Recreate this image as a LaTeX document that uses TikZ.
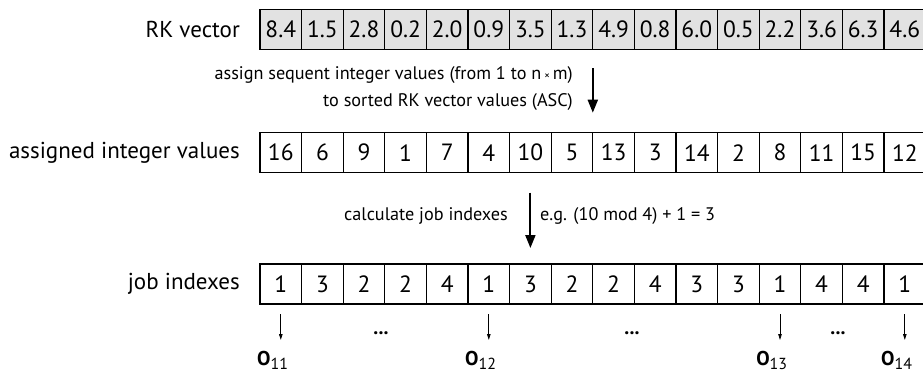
\documentclass[tikz,border=0pt]{standalone}
\usepackage{fontspec}
\setmainfont{PT Sans}
\usepackage{tikz}
\usetikzlibrary{arrows.meta, positioning, calc}
\definecolor{cellgray}{HTML}{E2E2E2}

\tikzset{
  cellbox/.style={draw=black, line width=1.3pt, minimum height=40pt, minimum width=41.6pt, inner sep=0pt, outer sep=0pt, font=\fontsize{23.5}{23.5}\selectfont},
  rklabel/.style={anchor=east, inner sep=0pt, font=\fontsize{23}{23}\selectfont},
  bigarrow/.style={line width=2pt, -{Triangle[length=13pt, width=10pt]}},
  smallarrow/.style={line width=0.8pt, -{Triangle[length=6pt, width=3.5pt]}},
  steptext/.style={inner sep=0pt, font=\fontsize{18.2}{27}\selectfont},
  opnode/.style={inner sep=0pt, font=\fontsize{20}{20}\selectfont}
}

\begin{document}
\begin{tikzpicture}[x=1pt, y=-1pt]
  \useasboundingbox (0,0) rectangle (923,376);
  \clip (0,0) rectangle (923,376);

  % RK vector row
  \node[cellbox, fill=cellgray] (a1) at (280.8,29.3) {8.4};
  \foreach \v [count=\i from 2, count=\p] in {1.5,2.8,0.2,2.0,0.9,3.5,1.3,4.9,0.8,6.0,0.5,2.2,3.6,6.3,4.6}
    \node[cellbox, fill=cellgray, right=0pt of a\p] (a\i) {\v};
  \node[rklabel] (rklab) at (240,29.3) {RK vector};

  % assigned integer values row
  \node[cellbox] (b1) at (280.8,152.7) {16};
  \foreach \v [count=\i from 2, count=\p] in {6,9,1,7,4,10,5,13,3,14,2,8,11,15,12}
    \node[cellbox, right=0pt of b\p] (b\i) {\v};
  \node[rklabel] (intlab) at (240,152.7) {assigned integer values};

  % job indexes row
  \node[cellbox] (c1) at (280.8,284) {1};
  \foreach \v [count=\i from 2, count=\p] in {3,2,2,4,1,3,2,2,4,3,3,1,4,4,1}
    \node[cellbox, right=0pt of c\p] (c\i) {\v};
  \node[rklabel] (joblab) at (240,284) {job indexes};

  % step arrows
  \draw[bigarrow] ([yshift=-19pt]a8.south east) -- ([yshift=20pt]b8.north east);
  \node[steptext, anchor=east, align=right] (asgtext) at (573,89) {assign sequent integer values (from 1 to n\,{\fontsize{11}{11}\selectfont ×}\,m)\\to sorted RK vector values (ASC)};
  \draw[bigarrow] ([yshift=-20pt]b7.south) -- ([yshift=16pt]c7.north);
  \node[steptext, anchor=east] (calctext) at (508,216) {calculate job indexes};
  \node[steptext, anchor=west] (egtext) at (540,216) {e.g. (10 mod 4) + 1 = 3};

  % operations
  \node[opnode, anchor=north] (o11) at ($(c1.south)+(-8,47)$) {\textbf{O}\textsubscript{\fontsize{16}{16}\selectfont 11}};
  \node[opnode, anchor=north] (o12) at ($(c6.south)+(-8,47)$) {\textbf{O}\textsubscript{\fontsize{16}{16}\selectfont 12}};
  \node[opnode, anchor=north] (o13) at ($(c13.south)+(-8,47)$) {\textbf{O}\textsubscript{\fontsize{16}{16}\selectfont 13}};
  \node[opnode, anchor=north] (o14) at ($(c16.south)+(-8,47)$) {\textbf{O}\textsubscript{\fontsize{16}{16}\selectfont 14}};
  \foreach \c in {1,6,13,16}
    \draw[smallarrow] ([yshift=-10pt]c\c.south) -- ([yshift=-36pt]c\c.south);
  \node[opnode] (dots1) at (381,333) {\textbf{...}};
  \node[opnode] (dots2) at (632,333) {\textbf{...}};
  \node[opnode] (dots3) at (838,333) {\textbf{...}};
\end{tikzpicture}
\end{document}
